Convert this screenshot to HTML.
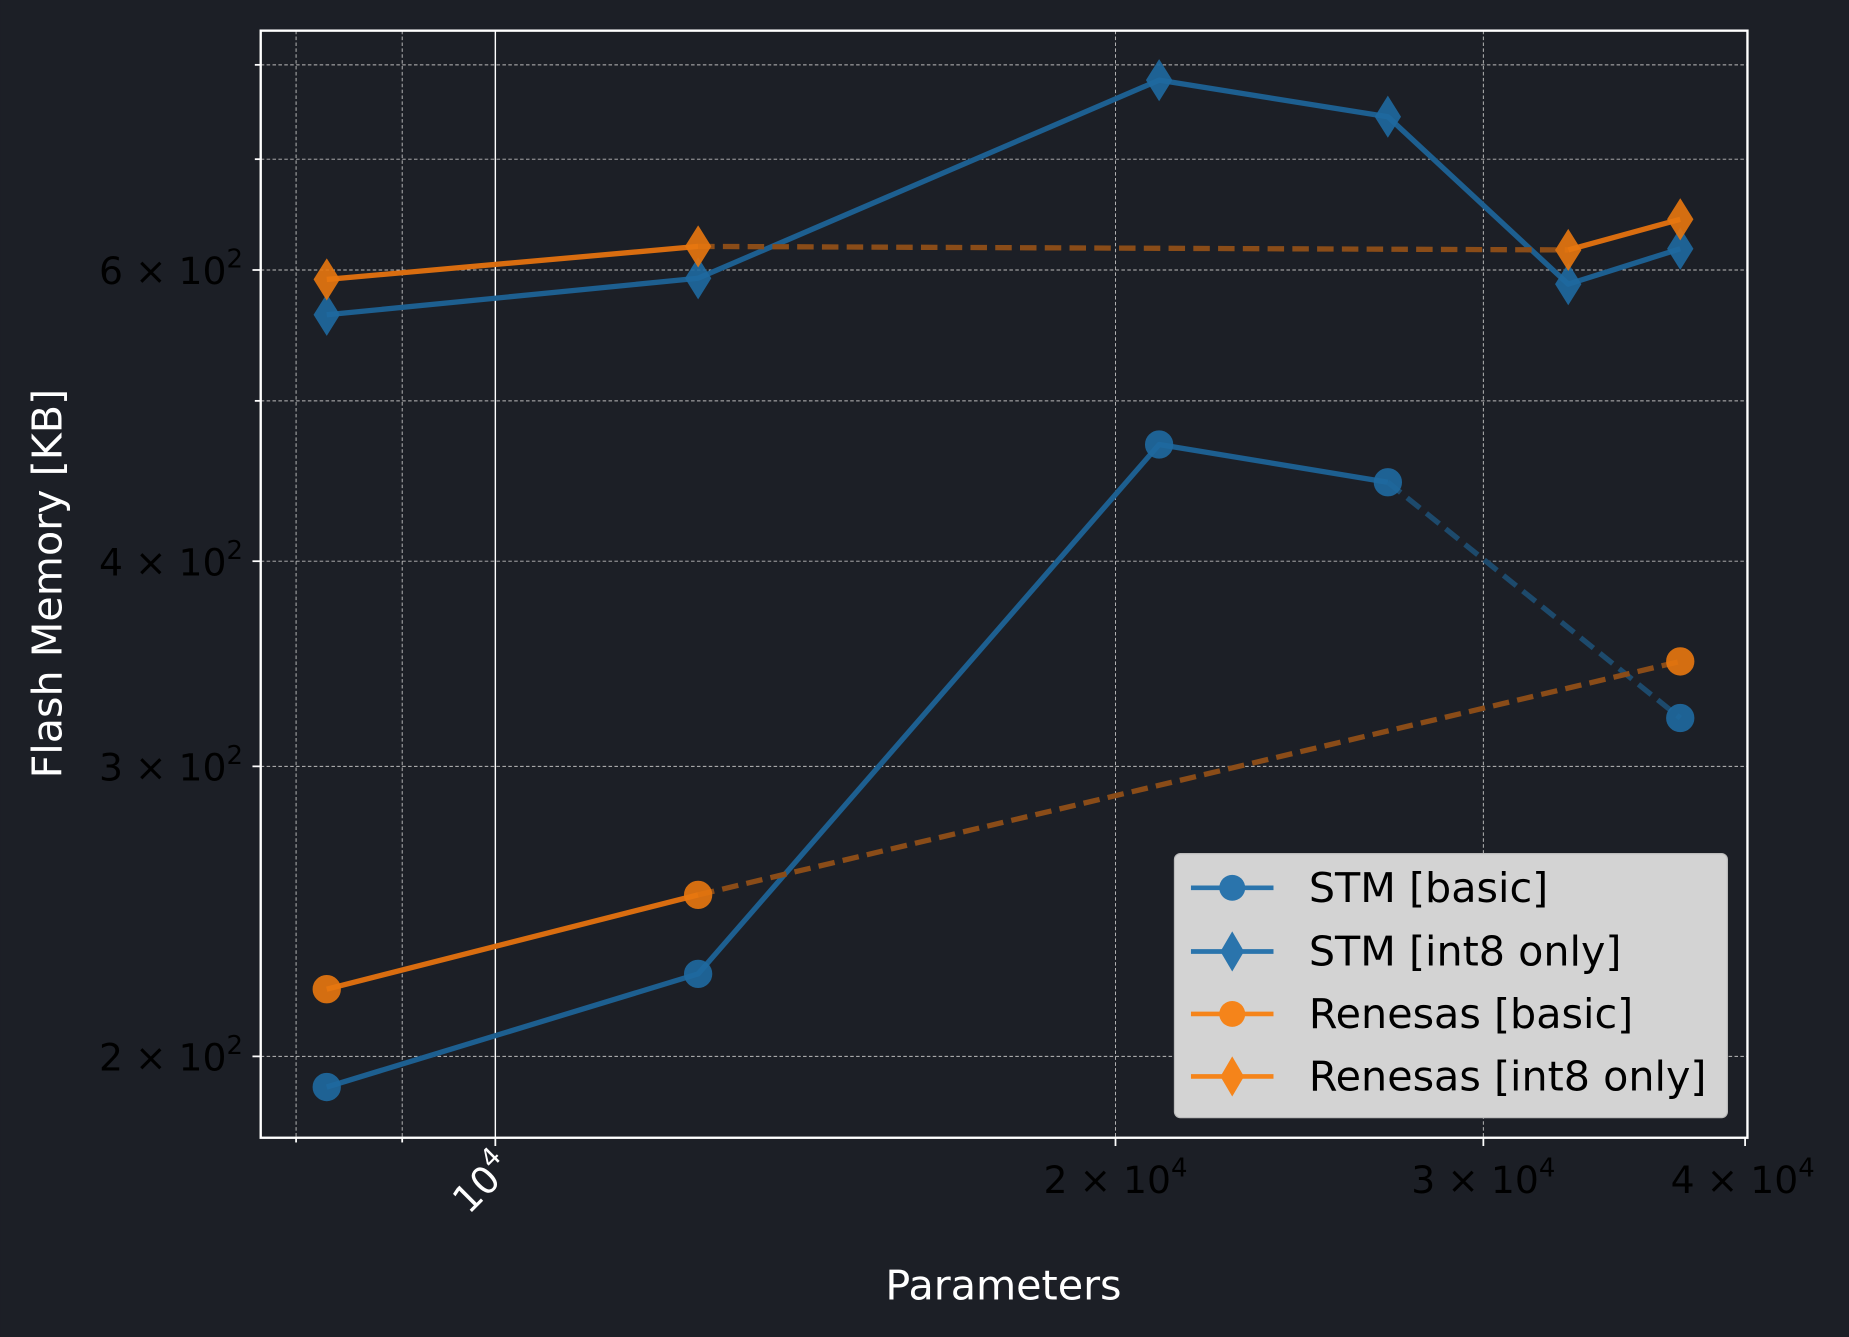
<!DOCTYPE html>
<html><head><meta charset="utf-8"><style>
html,body{margin:0;padding:0;background:#1c1f26;}
svg{display:block;}
text{font-family:"DejaVu Sans","Liberation Sans",sans-serif;}
</style></head><body>
<svg width="1849" height="1337" viewBox="0 0 1568 1134" xmlns="http://www.w3.org/2000/svg">
<rect x="0" y="0" width="1568" height="1134" fill="#1c1f26"/>
<rect x="221" y="26" width="1261" height="939" fill="#1c1f26"/>
<g stroke="#bbbbbb" stroke-width="0.8" stroke-dasharray="3,2" fill="none">
<line x1="221" x2="1482" y1="55" y2="55"/>
<line x1="221" x2="1482" y1="135" y2="135"/>
<line x1="221" x2="1482" y1="229" y2="229"/>
<line x1="221" x2="1482" y1="340" y2="340"/>
<line x1="221" x2="1482" y1="476" y2="476"/>
<line x1="221" x2="1482" y1="650" y2="650"/>
<line x1="221" x2="1482" y1="896" y2="896"/>
<line x1="251" x2="251" y1="26" y2="965"/>
<line x1="341" x2="341" y1="26" y2="965"/>
<line x1="946" x2="946" y1="26" y2="965"/>
<line x1="1258" x2="1258" y1="26" y2="965"/>
</g>
<line x1="420" x2="420" y1="26" y2="965" stroke="#ffffff" stroke-width="1.2"/>
<g fill="none" stroke-width="4.5" stroke-linejoin="round">
<polyline points="277,922 592,826 983,377 1177,409" stroke="#1d5f90"/>
<line x1="1177" y1="409" x2="1425" y2="609" stroke="#1d4a6c" stroke-dasharray="14,7"/>
<polyline points="277,267 592,236 983,68 1177,99 1330,241 1425,211" stroke="#1d5f90"/>
<polyline points="277,839 592,759" stroke="#d96d10"/>
<line x1="592" y1="759" x2="1425" y2="561" stroke="#8a4c18" stroke-dasharray="14,7"/>
<polyline points="277,237 592,209" stroke="#d96d10"/>
<line x1="592" y1="209" x2="1330" y2="212" stroke="#8a4c18" stroke-dasharray="14,7"/>
<line x1="1330" y1="212" x2="1425" y2="186" stroke="#d96d10"/>
</g>
<g fill="#1f6aa0" stroke="#1f6aa0" stroke-width="2" opacity="0.9">
<circle cx="277" cy="922" r="11"/><circle cx="592" cy="826" r="11"/><circle cx="983" cy="377" r="11"/><circle cx="1177" cy="409" r="11"/><circle cx="1425" cy="609" r="11"/>
<path d="M277,251 l10,16 l-10,16 l-10,-16z"/><path d="M592,220 l10,16 l-10,16 l-10,-16z"/><path d="M983,52 l10,16 l-10,16 l-10,-16z"/><path d="M1177,83 l10,16 l-10,16 l-10,-16z"/><path d="M1330,225 l10,16 l-10,16 l-10,-16z"/><path d="M1425,195 l10,16 l-10,16 l-10,-16z"/>
</g>
<g fill="#e8770f" stroke="#e8770f" stroke-width="2" opacity="0.9">
<circle cx="277" cy="839" r="11"/><circle cx="592" cy="759" r="11"/><circle cx="1425" cy="561" r="11"/>
<path d="M277,221 l10,16 l-10,16 l-10,-16z"/><path d="M592,193 l10,16 l-10,16 l-10,-16z"/><path d="M1330,196 l10,16 l-10,16 l-10,-16z"/><path d="M1425,170 l10,16 l-10,16 l-10,-16z"/>
</g>
<rect x="221" y="26" width="1261" height="939" fill="none" stroke="#ffffff" stroke-width="2"/>
<g stroke="#ffffff" stroke-width="1.5">
<line x1="214" x2="221" y1="229" y2="229"/><line x1="214" x2="221" y1="476" y2="476"/><line x1="214" x2="221" y1="650" y2="650"/><line x1="214" x2="221" y1="896" y2="896"/>
<line x1="216" x2="221" y1="55" y2="55"/><line x1="216" x2="221" y1="135" y2="135"/><line x1="216" x2="221" y1="340" y2="340"/>
<line x1="420" x2="420" y1="965" y2="972"/><line x1="946" x2="946" y1="965" y2="972"/><line x1="1258" x2="1258" y1="965" y2="972"/><line x1="1480" x2="1480" y1="965" y2="972"/>
<line x1="251" x2="251" y1="965" y2="969"/><line x1="341" x2="341" y1="965" y2="969"/>
</g>
<g font-size="32" fill="#000000" text-anchor="end">
<text x="206" y="241">6 × 10<tspan font-size="22" dy="-14">2</tspan></text>
<text x="206" y="488">4 × 10<tspan font-size="22" dy="-14">2</tspan></text>
<text x="206" y="662">3 × 10<tspan font-size="22" dy="-14">2</tspan></text>
<text x="206" y="908">2 × 10<tspan font-size="22" dy="-14">2</tspan></text>
</g>
<g font-size="32" fill="#000000" text-anchor="middle">
<text x="946" y="1012">2 × 10<tspan font-size="22" dy="-14">4</tspan></text>
<text x="1258" y="1012">3 × 10<tspan font-size="22" dy="-14">4</tspan></text>
<text x="1478" y="1012">4 × 10<tspan font-size="22" dy="-14">4</tspan></text>
</g>
<text x="0" y="0" font-size="32" fill="#ffffff" text-anchor="end" transform="translate(436,992) rotate(-45)">10<tspan font-size="22" dy="-14">4</tspan></text>
<text x="851" y="1102" font-size="35" fill="#ffffff" text-anchor="middle">Parameters</text>
<text x="0" y="0" font-size="35" fill="#ffffff" text-anchor="middle" transform="translate(52,495) rotate(-90)">Flash Memory [KB]</text>
<rect x="996" y="724" width="469" height="224" rx="5" fill="#d3d3d3" stroke="#bbbbbb"/>
<g stroke-width="4">
<line x1="1010" x2="1080" y1="753" y2="753" stroke="#2a74ac"/>
<circle cx="1045" cy="753" r="11" fill="#2a74ac"/>
<line x1="1010" x2="1080" y1="807" y2="807" stroke="#2a74ac"/>
<path d="M1045,790 l10,17 l-10,17 l-10,-17z" fill="#2a74ac"/>
<line x1="1010" x2="1080" y1="860" y2="860" stroke="#f5841a"/>
<circle cx="1045" cy="860" r="11" fill="#f5841a"/>
<line x1="1010" x2="1080" y1="913" y2="913" stroke="#f5841a"/>
<path d="M1045,896 l10,17 l-10,17 l-10,-17z" fill="#f5841a"/>
</g>
<g font-size="35" fill="#000000">
<text x="1110" y="765">STM [basic]</text>
<text x="1110" y="819">STM [int8 only]</text>
<text x="1110" y="872">Renesas [basic]</text>
<text x="1110" y="925">Renesas [int8 only]</text>
</g>
</svg>
</body></html>
